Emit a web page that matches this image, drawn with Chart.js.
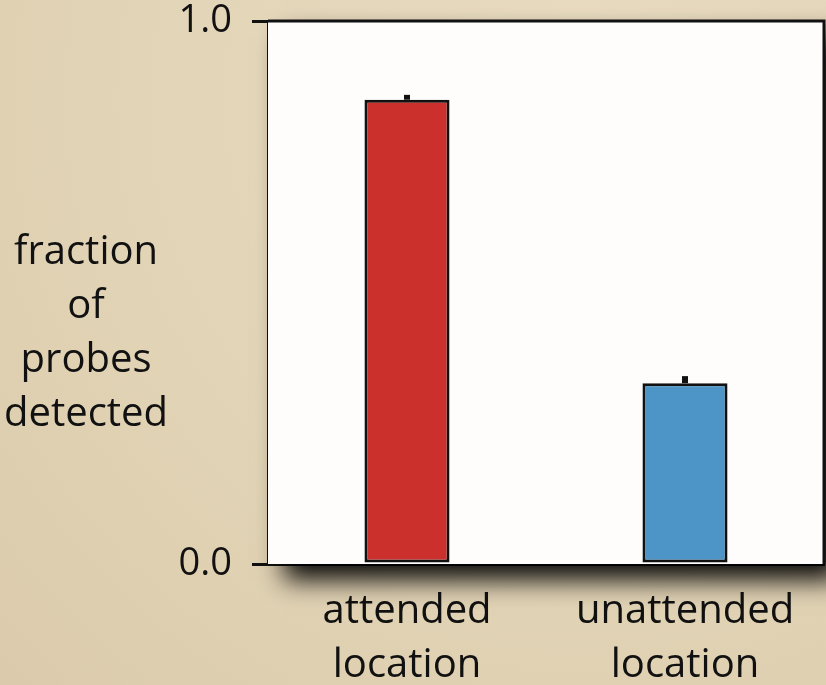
<!DOCTYPE html>
<html>
<head>
<meta charset="utf-8">
<script src="https://cdn.jsdelivr.net/npm/chart.js@4"></script>
<style>
  html, body { margin: 0; padding: 0; }
  body {
    width: 826px; height: 685px; overflow: hidden;
    background: radial-gradient(ellipse at 70% 15%, #e9dcc2 0%, #e2d4b6 55%, #dbcbac 100%);
  }
  #wrap { position: relative; width: 826px; height: 685px; }
</style>
</head>
<body>
<div id="wrap"><canvas id="probeChart" width="826" height="685"></canvas></div>
<script>
// Data
const categories = [["attended", "location"], ["unattended", "location"]];
const detected = [0.855, 0.333];
const errorTop = [0.864, 0.346];
const yTicks = [0, 1];
const yTitle = ["fraction", "of", "probes", "detected"];
const barColors = ["#cc302d", "#4e95c7"];

const FONT = "'Open Sans', 'Liberation Sans', sans-serif";

// Shadow + white plot box behind the bars
const boxPlugin = {
  id: "box",
  beforeDatasetsDraw(chart) {
    const { ctx, chartArea: a } = chart;
    ctx.save();
    ctx.shadowColor = "rgba(0,0,0,0.95)";
    ctx.shadowBlur = 24;
    ctx.shadowOffsetX = 16;
    ctx.shadowOffsetY = 16;
    ctx.fillStyle = "#fefdfc";
    ctx.fillRect(a.left, a.top, a.right - a.left, a.bottom - a.top);
    ctx.restore();
  },
  afterDatasetsDraw(chart) {
    const { ctx, chartArea: a, scales } = chart;
    ctx.save();
    // error bars
    ctx.fillStyle = "#111";
    errorTop.forEach((v, i) => {
      const x = scales.x.getPixelForValue(i);
      const y0 = scales.y.getPixelForValue(detected[i]);
      const y1 = scales.y.getPixelForValue(v);
      ctx.fillRect(x - 3, y1, 6, y0 - y1);
    });
    // top and right frame
    ctx.strokeStyle = "#111";
    ctx.lineWidth = 3;
    ctx.beginPath();
    ctx.moveTo(a.left, a.top);
    ctx.lineTo(a.right, a.top);
    ctx.lineTo(a.right, a.bottom);
    ctx.stroke();
    // y title, horizontal
    ctx.fillStyle = "#111";
    ctx.font = "40px " + FONT;
    ctx.textAlign = "center";
    ctx.textBaseline = "middle";
    yTitle.forEach((t, i) => ctx.fillText(t, 86, 253 + i * 54));
    ctx.restore();
  }
};

new Chart(document.getElementById("probeChart"), {
  type: "bar",
  data: {
    labels: categories,
    datasets: [{
      data: detected,
      backgroundColor: barColors,
      borderColor: "#111",
      borderWidth: 3,
      borderSkipped: false,
      barPercentage: 0.306,
      categoryPercentage: 1
    }]
  },
  plugins: [boxPlugin],
  options: {
    responsive: false,
    animation: false,
    layout: { padding: { left: 0, right: 2, top: 0, bottom: 0 } },
    plugins: { legend: { display: false }, tooltip: { enabled: false } },
    scales: {
      x: {
        grid: { display: false, drawTicks: false },
        border: { display: true, color: "#111", width: 3 },
        ticks: { color: "#111", font: { family: FONT, size: 40, lineHeight: 1.36 }, padding: 20, maxRotation: 0 },
        afterFit(s) { s.height = 121; }
      },
      y: {
        min: 0, max: 1,
        afterBuildTicks(s) { s.ticks = yTicks.map(v => ({ value: v })); },
        grid: { drawOnChartArea: false, drawTicks: true, tickLength: 16, color: "#111", lineWidth: 3 },
        border: { display: true, color: "#111", width: 3 },
        ticks: { color: "#111", font: { family: FONT, size: 38 }, padding: 20, callback: v => v.toFixed(1) },
        afterFit(s) { s.width = 268; s.paddingTop = 21; }
      }
    }
  }
});
</script>
</body>
</html>
